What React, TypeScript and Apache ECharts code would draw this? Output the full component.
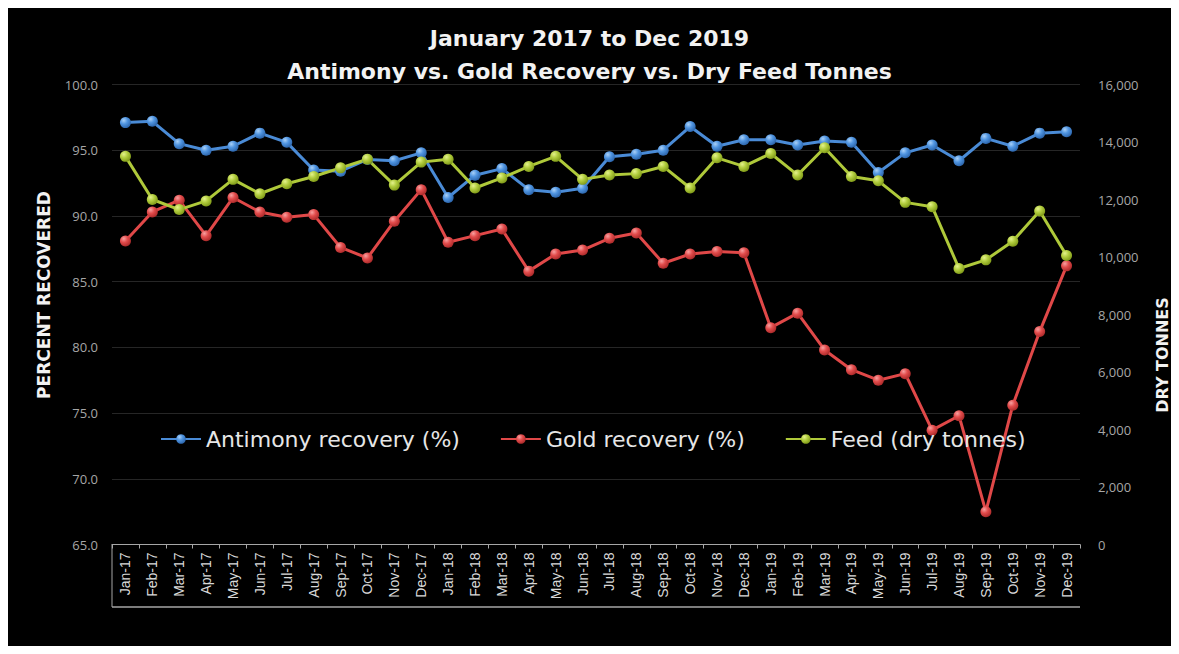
import React, { useEffect, useRef } from 'react';
import * as echarts from 'echarts';

const months = [
  'Jan-17', 'Feb-17', 'Mar-17', 'Apr-17', 'May-17', 'Jun-17', 'Jul-17', 'Aug-17', 'Sep-17', 'Oct-17', 'Nov-17', 'Dec-17',
  'Jan-18', 'Feb-18', 'Mar-18', 'Apr-18', 'May-18', 'Jun-18', 'Jul-18', 'Aug-18', 'Sep-18', 'Oct-18', 'Nov-18', 'Dec-18',
  'Jan-19', 'Feb-19', 'Mar-19', 'Apr-19', 'May-19', 'Jun-19', 'Jul-19', 'Aug-19', 'Sep-19', 'Oct-19', 'Nov-19', 'Dec-19',
];

const antimonyRecovery = [
  97.1, 97.2, 95.5, 95.0, 95.3, 96.3, 95.6, 93.5, 93.4, 94.3, 94.2, 94.8,
  91.4, 93.1, 93.6, 92.0, 91.8, 92.1, 94.5, 94.7, 95.0, 96.8, 95.3, 95.8,
  95.8, 95.4, 95.7, 95.6, 93.3, 94.8, 95.4, 94.2, 95.9, 95.3, 96.3, 96.4,
];

const goldRecovery = [
  88.1, 90.3, 91.2, 88.5, 91.4, 90.3, 89.9, 90.1, 87.6, 86.8, 89.6, 92.0,
  88.0, 88.5, 89.0, 85.8, 87.1, 87.4, 88.3, 88.7, 86.4, 87.1, 87.3, 87.2,
  81.5, 82.6, 79.8, 78.3, 77.5, 78.0, 73.7, 74.8, 67.5, 75.6, 81.2, 86.2,
];

const feedDryTonnes = [
  13500, 12000, 11650, 11950, 12700, 12200, 12550, 12800, 13100, 13400, 12500, 13300,
  13400, 12400, 12750, 13150, 13500, 12700, 12850, 12900, 13150, 12400, 13450, 13150,
  13600, 12850, 13800, 12800, 12650, 11900, 11750, 9600, 9900, 10550, 11600, 10050,
];

const titleLines = ['January 2017 to Dec 2019', 'Antimony vs. Gold Recovery vs. Dry Feed Tonnes'];
const seriesNames = ['Antimony recovery (%)', 'Gold recovery (%)', 'Feed (dry tonnes)'];
const leftAxisTitle = 'PERCENT RECOVERED';
const rightAxisTitle = 'DRY TONNES';

const ball = (light: string, mid: string, dark: string) =>
  new echarts.graphic.RadialGradient(0.35, 0.3, 0.75, [
    { offset: 0, color: light },
    { offset: 0.45, color: mid },
    { offset: 1, color: dark },
  ]);

export default function App() {
  const ref = useRef<HTMLDivElement>(null);

  useEffect(() => {
    if (!ref.current) return;
    const chart = echarts.init(ref.current, null, { renderer: 'svg' });
    const font = '"DejaVu Sans", "Open Sans", sans-serif';
    const smallFont = '"Open Sans", "Noto Sans", sans-serif';
    const lineDefs = [
      { name: seriesNames[0], data: antimonyRecovery, yAxisIndex: 0, line: '#4a8bd6', marker: ball('#a9d0f7', '#4f94e0', '#2a62a8') },
      { name: seriesNames[1], data: goldRecovery, yAxisIndex: 0, line: '#e04848', marker: ball('#f7a0a0', '#e24c4c', '#a82828') },
      { name: seriesNames[2], data: feedDryTonnes, yAxisIndex: 1, line: '#afc93a', marker: ball('#e4f28c', '#b2cd3e', '#7c9616') },
    ];

    chart.setOption({
      animation: false,
      backgroundColor: '#000',
      title: {
        text: titleLines.join('\n'),
        left: 'center',
        top: 9,
        textStyle: {
          color: '#f2f2f2',
          fontFamily: font,
          fontWeight: 'bold',
          fontSize: 22,
          lineHeight: 33,
        },
      },
      legend: {
        left: 147,
        top: 415,
        itemWidth: 40,
        itemHeight: 12,
        itemGap: 40,
        textStyle: { color: '#e6e6e6', fontFamily: font, fontSize: 22 },
        data: seriesNames,
      },
      grid: { left: 104, right: 91, top: 76.5, bottom: 101.5, containLabel: false },
      xAxis: {
        type: 'category',
        data: months,
        boundaryGap: true,
        axisLine: { lineStyle: { color: '#a6a6a6', width: 1 } },
        axisTick: { show: true, length: 4, lineStyle: { color: '#a6a6a6' } },
        axisLabel: {
          rotate: 90,
          interval: 0,
          margin: 8,
          color: '#d9d9d9',
          fontFamily: '"Liberation Sans", Arial, sans-serif',
          fontSize: 14,
        },
      },
      yAxis: [
        {
          type: 'value',
          min: 65,
          max: 100,
          interval: 5,
          axisLine: { show: false },
          axisTick: { show: false },
          splitLine: { show: true, lineStyle: { color: '#262626', width: 1 } },
          axisLabel: {
            color: '#a6a6a6',
            fontFamily: smallFont,
            fontSize: 13,
            margin: 14,
            formatter: (v: number) => v.toFixed(1),
          },
        },
        {
          type: 'value',
          min: 0,
          max: 16000,
          interval: 2000,
          axisLine: { show: false },
          axisTick: { show: false },
          splitLine: { show: false },
          axisLabel: {
            color: '#a6a6a6',
            fontFamily: smallFont,
            fontSize: 13,
            margin: 18,
            formatter: (v: number) => v.toLocaleString('en-US'),
          },
        },
      ],
      graphic: [
        {
          type: 'text',
          x: 36,
          y: 287,
          rotation: Math.PI / 2,
          style: {
            text: leftAxisTitle,
            fill: '#f2f2f2',
            font: `bold 17px ${font}`,
            textAlign: 'center',
            textVerticalAlign: 'middle',
          },
        },
        {
          type: 'text',
          x: 1154,
          y: 347,
          rotation: Math.PI / 2,
          style: {
            text: rightAxisTitle,
            fill: '#f2f2f2',
            font: `bold 16px ${font}`,
            textAlign: 'center',
            textVerticalAlign: 'middle',
          },
        },
        {
          type: 'line',
          shape: { x1: 104, y1: 599, x2: 1072, y2: 599 },
          style: { stroke: '#a6a6a6', lineWidth: 1.5 },
        },
        {
          type: 'line',
          shape: { x1: 104, y1: 536.5, x2: 104, y2: 599 },
          style: { stroke: '#a6a6a6', lineWidth: 1 },
        },
      ],
      series: lineDefs.map((d) => ({
        name: d.name,
        type: 'line',
        yAxisIndex: d.yAxisIndex,
        data: d.data,
        symbol: 'circle',
        symbolSize: 11,
        showSymbol: true,
        lineStyle: { color: d.line, width: 3 },
        itemStyle: { color: d.marker, borderWidth: 0 },
        emphasis: { disabled: true },
      })),
    });

    return () => chart.dispose();
  }, []);

  return <div ref={ref} style={{ width: 1163, height: 638, background: '#000' }} />;
}
